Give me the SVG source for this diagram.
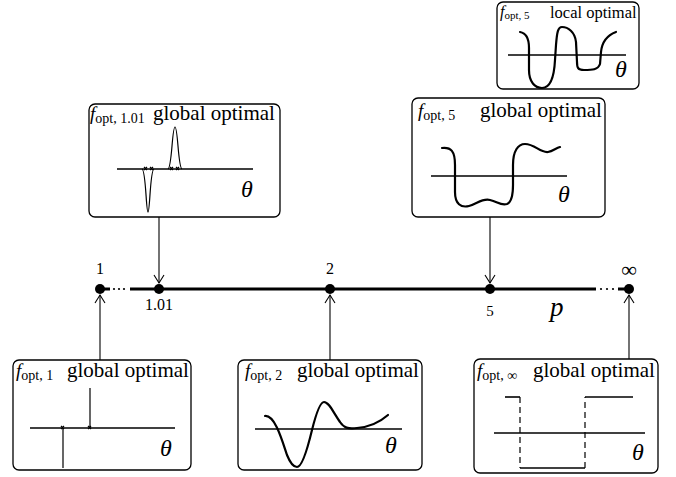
<svg xmlns="http://www.w3.org/2000/svg" width="676" height="477" viewBox="0 0 676 477">
<style>
text{font-family:"Liberation Serif","Times New Roman",serif;fill:#000}
.box{fill:#fff;stroke:#000;stroke-width:1.3}
.ax{stroke:#000;stroke-width:1.6;fill:none}
.cv{fill:none;stroke:#000;stroke-width:2.2;stroke-linecap:round;stroke-linejoin:round}
.thin{fill:none;stroke:#000;stroke-width:1.2}
.lbl{font-size:21px}
.f{font-style:italic;font-size:19px}
.sub{font-size:14px}
.th{font-style:italic;font-size:24px}
.num{font-size:16px}
.arr{stroke:#000;stroke-width:1.1;fill:none}
.dash{stroke:#000;stroke-width:1.2;stroke-dasharray:6 4;fill:none}
</style>
<defs>
<marker id="ah" markerWidth="12" markerHeight="12" refX="10" refY="6" orient="auto" markerUnits="userSpaceOnUse">
<path d="M2,1 L10,6 L2,11" fill="none" stroke="#000" stroke-width="1.1"/>
</marker>
</defs>

<g id="axis">
<line x1="130" y1="289" x2="596" y2="289" stroke="#000" stroke-width="3"/>
<line x1="100" y1="289" x2="110" y2="289" stroke="#000" stroke-width="3"/>
<circle cx="114" cy="289" r="1.1"/><circle cx="119" cy="289" r="1.1"/><circle cx="124" cy="289" r="1.1"/>
<circle cx="601" cy="289" r="1.1"/><circle cx="607" cy="289" r="1.1"/><circle cx="613" cy="289" r="1.1"/>
<line x1="618" y1="289" x2="629" y2="289" stroke="#000" stroke-width="3"/>
<circle cx="100" cy="289" r="5"/>
<circle cx="159" cy="289" r="5"/>
<circle cx="330" cy="289" r="5"/>
<circle cx="490" cy="289" r="5"/>
<circle cx="629" cy="289" r="5"/>
<text class="num" x="100" y="274" text-anchor="middle">1</text>
<text class="num" x="330" y="274" text-anchor="middle">2</text>
<text x="629" y="277" text-anchor="middle" font-size="22">∞</text>
<text class="num" x="159" y="310" text-anchor="middle">1.01</text>
<text x="490" y="316" text-anchor="middle" font-size="15">5</text>
<text x="550" y="316" font-size="27" font-style="italic">p</text>
</g>

<g id="connectors">
<line class="arr" x1="159" y1="217" x2="159" y2="283" marker-end="url(#ah)"/>
<line class="arr" x1="490" y1="217" x2="490" y2="283" marker-end="url(#ah)"/>
<line class="arr" x1="100" y1="360" x2="100" y2="295" marker-end="url(#ah)"/>
<line class="arr" x1="330" y1="360" x2="330" y2="295" marker-end="url(#ah)"/>
<line class="arr" x1="629" y1="359" x2="629" y2="295" marker-end="url(#ah)"/>
</g>

<g id="box-top-local">
<rect class="box" x="497" y="2" width="142" height="87" rx="6"/>
<text x="500" y="17"><tspan font-style="italic" font-size="16">f</tspan><tspan font-size="11" dy="2">opt, 5</tspan></text>
<text x="550" y="18" font-size="16.5">local optimal</text>
<line class="ax" x1="508" y1="55" x2="626" y2="55"/>
<path class="cv" d="M520,32 C526,33 529,38 529,48 L529,70 C529,82 535,88 542,88 C549,88 554,80 555,60 L556,45 C557,32 558,27 562,27 C568,27 575,32 576,42 L577,62 C577,68 578,70 584,70 C592,70 598,70 600,64 L601,52 C602,42 608,35 616,32"/>
<text class="th" x="615" y="77" font-size="20">θ</text>
</g>

<g id="box-1-01">
<rect class="box" x="89" y="104" width="191" height="113" rx="6"/>
<text x="90" y="120"><tspan class="f">f</tspan><tspan class="sub" dy="3">opt, 1.01</tspan></text>
<text class="lbl" x="153" y="120">global optimal</text>
<line class="ax" x1="117" y1="169" x2="253" y2="169"/>
<path class="thin" d="M142,169 C146,170 146,212 148,212 C150,212 150,170 154,169"/>
<path class="thin" d="M168,169 C172,168 172,127 175,127 C178,127 178,168 182,169"/>
<path class="thin" stroke-width="0.9" d="M144,167 l3,3 m0,-3 l-3,3 M150,167 l3,3 m0,-3 l-3,3 M170,167 l3,3 m0,-3 l-3,3 M176,167 l3,3 m0,-3 l-3,3"/>
<text class="th" x="241" y="197">θ</text>
</g>

<g id="box-5-global">
<rect class="box" x="412" y="98" width="193" height="119" rx="6"/>
<text x="418" y="117"><tspan class="f">f</tspan><tspan class="sub" dy="3">opt, 5</tspan></text>
<text class="lbl" x="480" y="117">global optimal</text>
<line class="ax" x1="431" y1="176" x2="567" y2="176"/>
<path class="cv" d="M442,148 C451,147 455,151 455,165 L455,192 C455,204 461,208 469,206 C477,204 482,198 490,200 C498,202 501,206 507,204 C512,202 513,195 513,185 L513,165 C513,151 518,144 525,144 C535,144 540,153 548,152 C553,151 556,148 560,147"/>
<text class="th" x="558" y="202">θ</text>
</g>

<g id="box-1">
<rect class="box" x="13" y="360" width="178" height="110" rx="6"/>
<text x="16" y="377"><tspan class="f">f</tspan><tspan class="sub" dy="3">opt, 1</tspan></text>
<text class="lbl" x="67" y="377">global optimal</text>
<line class="ax" x1="30" y1="428" x2="175" y2="428"/>
<line class="thin" x1="90" y1="388" x2="90" y2="428"/>
<line class="thin" x1="63" y1="428" x2="63" y2="468"/>
<path class="thin" stroke-width="0.9" d="M61,426 l3,3 m0,-3 l-3,3 M88,426 l3,3 m0,-3 l-3,3"/>
<text class="th" x="160" y="456">θ</text>
</g>

<g id="box-2">
<rect class="box" x="238" y="360" width="184" height="110" rx="6"/>
<text x="245" y="377"><tspan class="f">f</tspan><tspan class="sub" dy="3">opt, 2</tspan></text>
<text class="lbl" x="297" y="377">global optimal</text>
<line class="ax" x1="255" y1="429" x2="402" y2="429"/>
<path class="cv" d="M265,416 C275,415 282,440 287,455 C291,465 294,467 297,467 C301,467 306,455 312,430 C316,414 320,402 324,402 C329,402 333,412 340,422 C344,428 348,429 357,428 C370,427 380,422 388,415"/>
<text class="th" x="385" y="453">θ</text>
</g>

<g id="box-inf">
<rect class="box" x="474" y="359" width="184" height="114" rx="6"/>
<text x="477" y="377"><tspan class="f">f</tspan><tspan class="sub" dy="3">opt, ∞</tspan></text>
<text class="lbl" x="533" y="377">global optimal</text>
<line class="ax" x1="494" y1="433" x2="645" y2="433"/>
<path class="ax" d="M505,397 H520"/>
<path class="ax" d="M520,468 H585"/>
<path class="ax" d="M585,397 H633"/>
<line class="dash" x1="520" y1="397" x2="520" y2="468"/>
<line class="dash" x1="585" y1="468" x2="585" y2="397"/>
<text class="th" x="632" y="460">θ</text>
</g>
</svg>
